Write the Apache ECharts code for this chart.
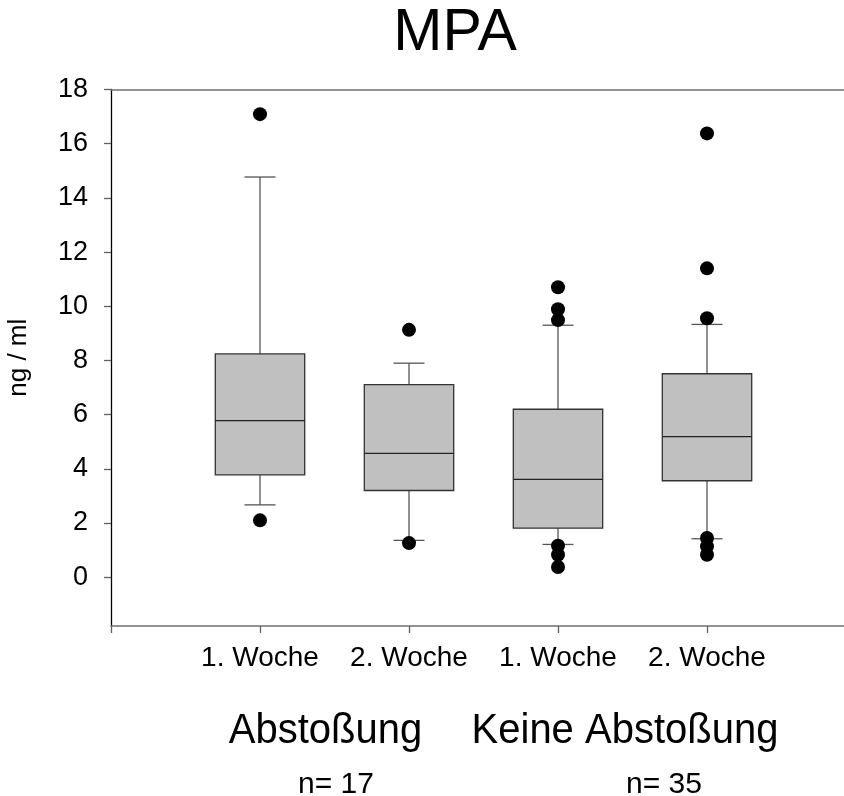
<!DOCTYPE html>
<html>
<head>
<meta charset="utf-8">
<script src="https://cdn.jsdelivr.net/npm/echarts@6/dist/echarts.min.js"></script>
<style>
html,body{margin:0;padding:0;background:#fff;}
#chart{width:844px;height:796px;}
</style>
</head>
<body>
<div id="chart"></div>
<script>
// ---- data ----
var categories = ['', '1. Woche', '2. Woche', '1. Woche', '2. Woche', ''];
var boxPositions = [1, 2, 3, 4];
var lowWhisker = [2.67, 1.36, 1.21, 1.42];
var q1 = [3.78, 3.20, 1.81, 3.56];
var median = [5.78, 4.57, 3.61, 5.19];
var q3 = [8.24, 7.11, 6.20, 7.51];
var highWhisker = [14.77, 7.90, 9.30, 9.33];
var outliers1 = [17.09, 2.10];
var outliers2 = [9.13, 1.26];
var outliers3 = [10.70, 9.89, 9.49, 1.16, 0.83, 0.38];
var outliers4 = [16.38, 11.40, 9.56, 1.45, 1.14, 0.83];
var yTicks = [0, 2, 4, 6, 8, 10, 12, 14, 16, 18];
var title = 'MPA';
var yName = 'ng / ml';
var groupNames = ['Abstoßung', 'Keine Abstoßung'];
var groupN = ['n= 17', 'n= 35'];

// ---- build ----
var boxData = boxPositions.map(function (p, i) {
  return [p, lowWhisker[i], q1[i], median[i], q3[i], highWhisker[i]];
});
var outlierData = [];
[outliers1, outliers2, outliers3, outliers4].forEach(function (arr, i) {
  arr.forEach(function (v) { outlierData.push([boxPositions[i], v]); });
});

var FONT = "'Liberation Sans', Arial, sans-serif";
var chart = echarts.init(document.getElementById('chart'), null, {renderer: 'canvas'});

function renderBox(params, api) {
  var x = api.value(0);
  var band = api.size([1, 0])[0];
  var halfW = band * 0.3;
  var capHalf = band * 0.104;
  var pLow = api.coord([x, api.value(1)]);
  var pQ1 = api.coord([x, api.value(2)]);
  var pMed = api.coord([x, api.value(3)]);
  var pQ3 = api.coord([x, api.value(4)]);
  var pHigh = api.coord([x, api.value(5)]);
  var cx = pMed[0];
  var wStyle = {stroke: '#555', lineWidth: 1.3, fill: null};
  return {
    type: 'group',
    children: [
      {type: 'line', shape: {x1: cx, y1: pQ3[1], x2: cx, y2: pHigh[1]}, style: wStyle},
      {type: 'line', shape: {x1: cx, y1: pQ1[1], x2: cx, y2: pLow[1]}, style: wStyle},
      {type: 'line', shape: {x1: cx - capHalf, y1: pHigh[1], x2: cx + capHalf, y2: pHigh[1]}, style: wStyle},
      {type: 'line', shape: {x1: cx - capHalf, y1: pLow[1], x2: cx + capHalf, y2: pLow[1]}, style: wStyle},
      {type: 'rect', shape: {x: cx - halfW, y: pQ3[1], width: halfW * 2, height: pQ1[1] - pQ3[1]},
        style: {fill: '#c0c0c0', stroke: '#333', lineWidth: 1.3}},
      {type: 'line', shape: {x1: cx - halfW, y1: pMed[1], x2: cx + halfW, y2: pMed[1]},
        style: {stroke: '#222', lineWidth: 1.3}}
    ]
  };
}

var option = {
  backgroundColor: '#fff',
  animation: false,
  grid: {left: 111, top: 89.5, width: 745, height: 536.5, containLabel: false, outerBoundsMode: 'none'},
  xAxis: [{
    type: 'category',
    data: categories,
    boundaryGap: false,
    position: 'bottom',
    axisLine: {show: true, onZero: false, lineStyle: {color: '#707070', width: 1.5}},
    axisTick: {show: true, length: 7, interval: 0, lineStyle: {color: '#606060', width: 1.3}},
    axisLabel: {interval: 0, margin: 18, fontSize: 28, color: '#000', fontFamily: FONT},
    splitLine: {show: false}
  }, {
    type: 'category',
    data: categories,
    boundaryGap: false,
    position: 'top',
    axisLine: {show: true, onZero: false, lineStyle: {color: '#707070', width: 1.5}},
    axisTick: {show: false},
    axisLabel: {show: false},
    splitLine: {show: false}
  }],
  yAxis: {
    type: 'value',
    min: -1.8,
    max: 18,
    name: yName,
    nameLocation: 'middle',
    nameRotate: 90,
    nameGap: 79,
    nameTextStyle: {fontSize: 26, color: '#000', fontFamily: FONT},
    axisLine: {show: true, onZero: false, lineStyle: {color: '#000', width: 1.3}},
    axisTick: {show: true, length: 7, customValues: yTicks, lineStyle: {color: '#606060', width: 1.3}},
    axisLabel: {customValues: yTicks, margin: 23, fontSize: 27, color: '#000', fontFamily: FONT},
    splitLine: {show: false}
  },
  series: [{
    type: 'custom',
    renderItem: renderBox,
    data: boxData,
    encode: {x: 0, y: [1, 2, 3, 4, 5]},
    z: 2
  }, {
    type: 'scatter',
    data: outlierData,
    symbol: 'circle',
    symbolSize: 14,
    itemStyle: {color: '#000', opacity: 1},
    z: 3
  }],
  graphic: [
    {type: 'text', x: 455, y: 34, style: {text: title, fontSize: 59, fontFamily: FONT, fill: '#000', align: 'center', verticalAlign: 'middle'}},
    {type: 'text', x: 325.5, y: 731, scaleY: 1.08, style: {text: groupNames[0], fontSize: 40, fontFamily: FONT, fill: '#000', align: 'center', verticalAlign: 'middle'}},
    {type: 'text', x: 625, y: 731, scaleY: 1.08, style: {text: groupNames[1], fontSize: 40, fontFamily: FONT, fill: '#000', align: 'center', verticalAlign: 'middle'}},
    {type: 'text', x: 336, y: 785, style: {text: groupN[0], fontSize: 30, fontFamily: FONT, fill: '#000', align: 'center', verticalAlign: 'middle'}},
    {type: 'text', x: 664, y: 785, style: {text: groupN[1], fontSize: 30, fontFamily: FONT, fill: '#000', align: 'center', verticalAlign: 'middle'}}
  ]
};
chart.setOption(option);
</script>
</body>
</html>
